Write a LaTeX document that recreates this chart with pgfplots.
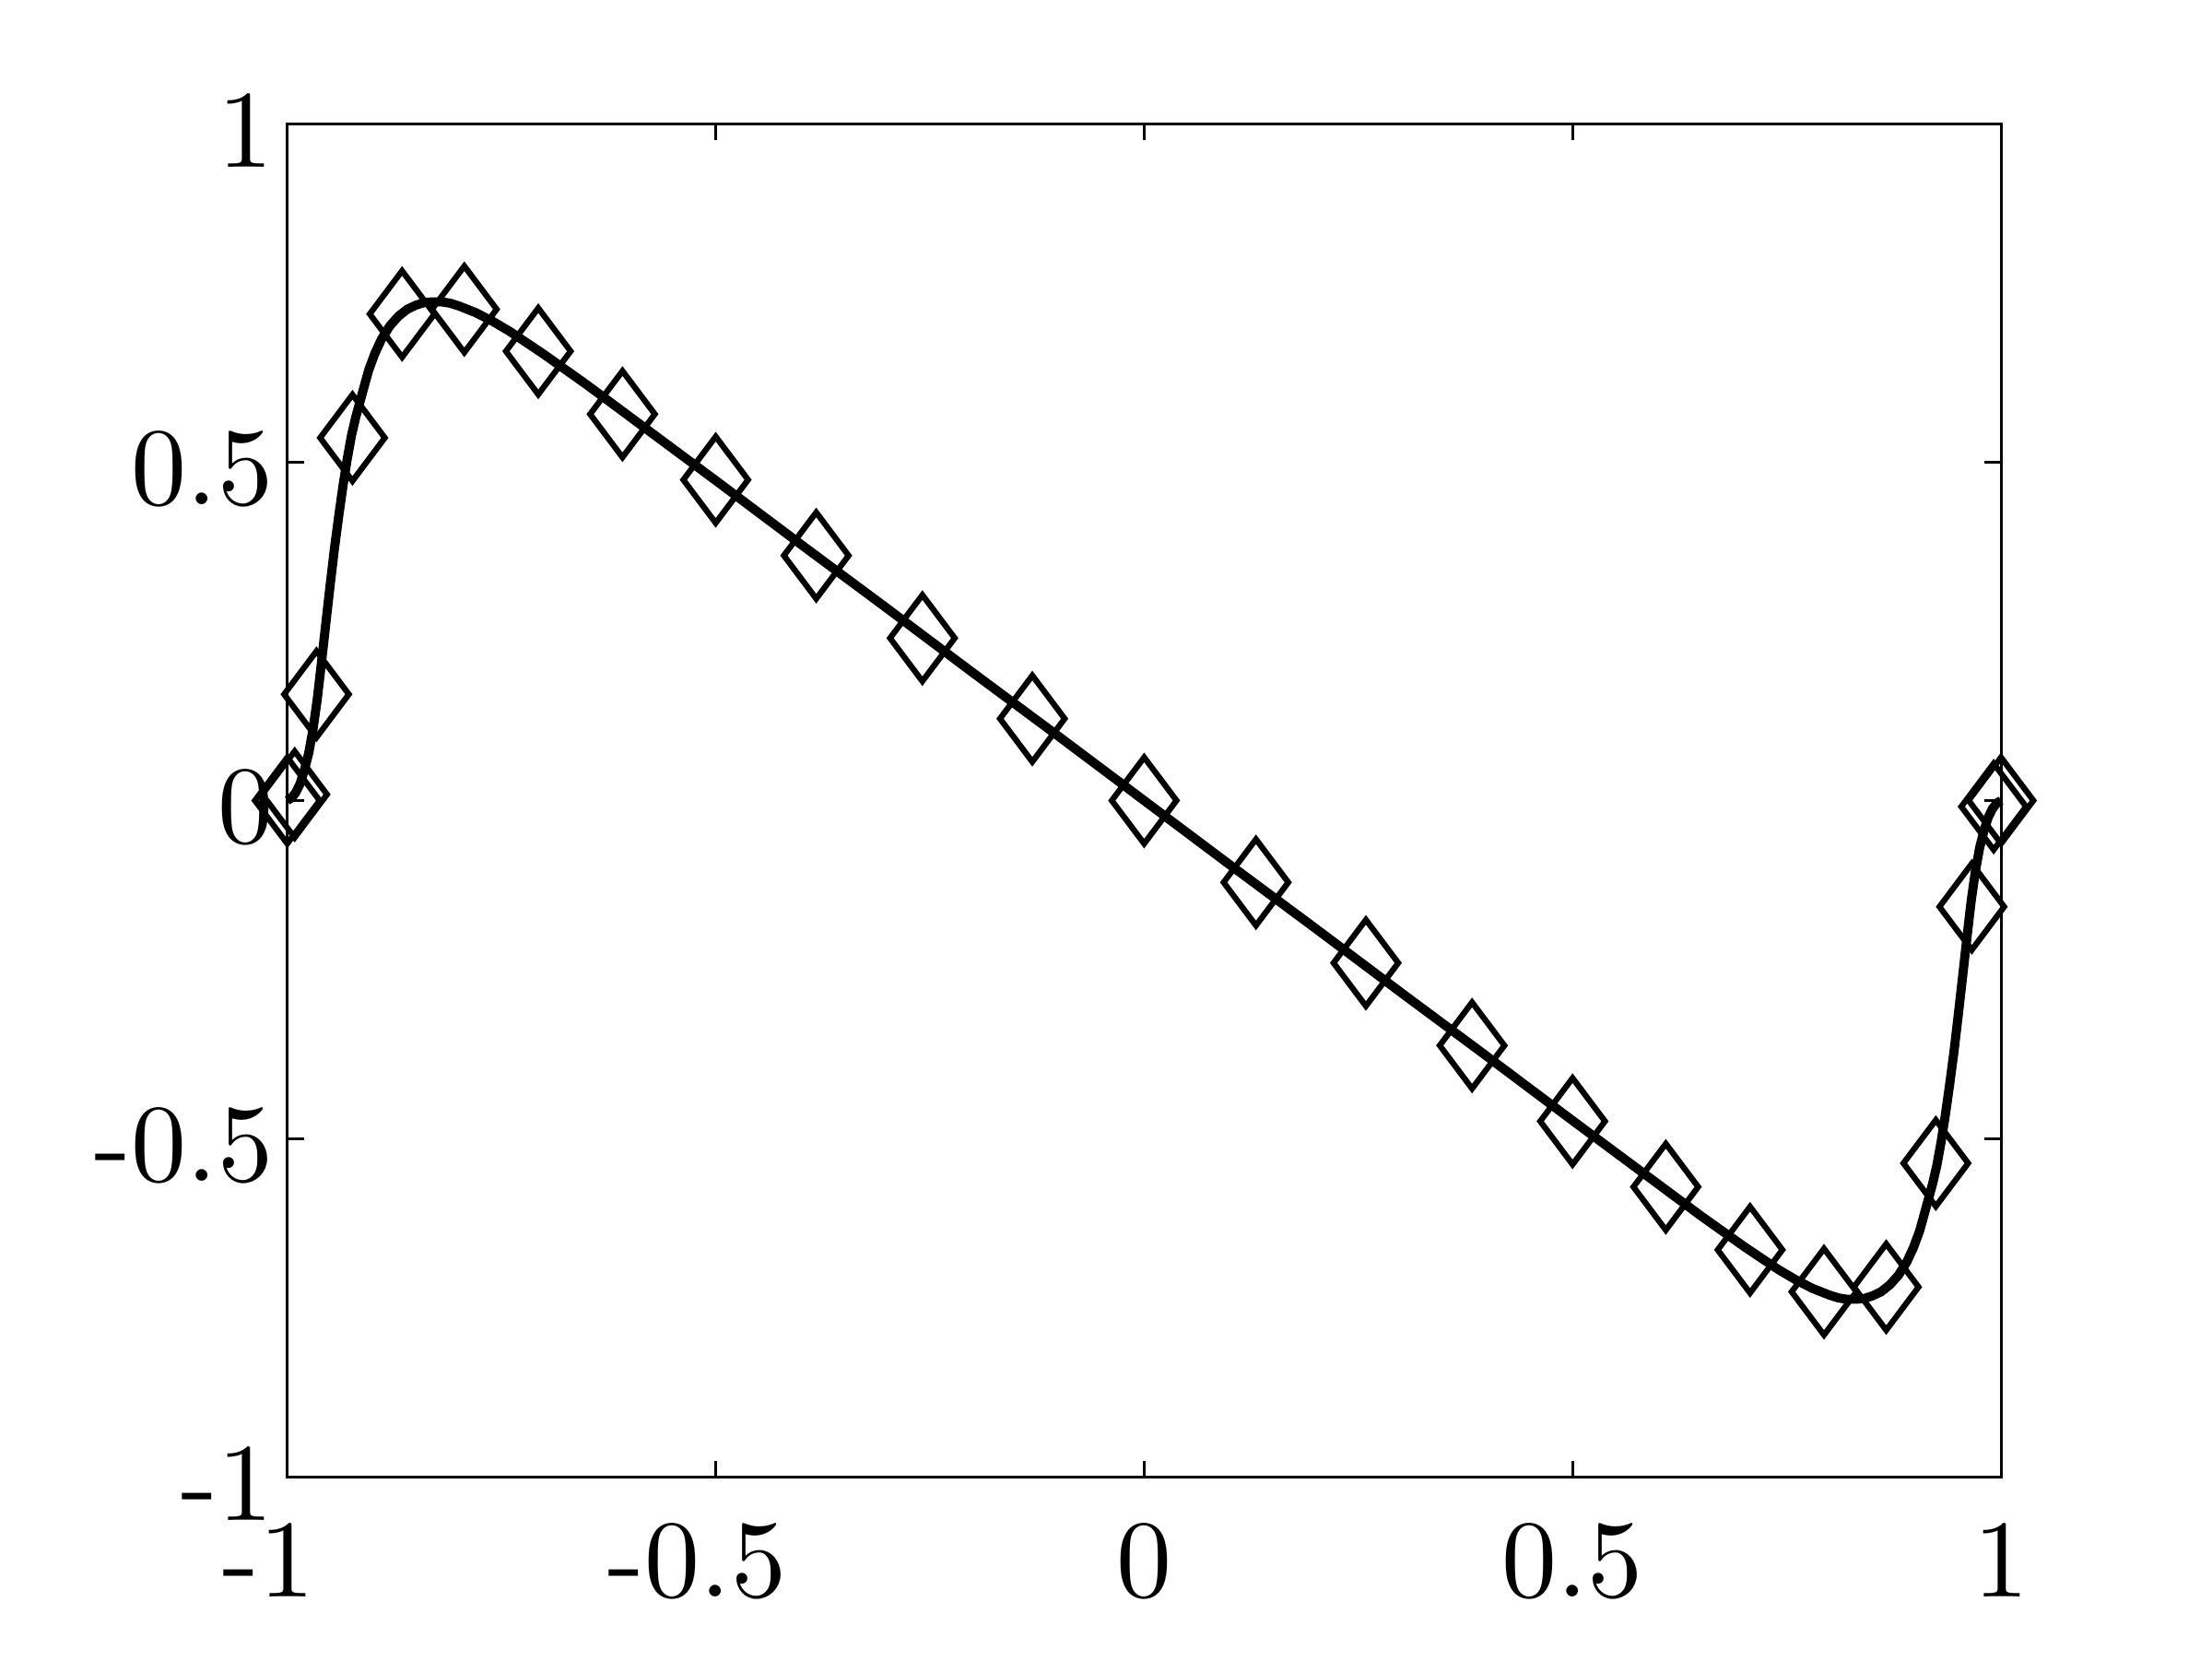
\documentclass[border=0pt]{standalone}
\usepackage{pgfplots}
\pgfplotsset{compat=1.18}
\begin{document}
\begin{tikzpicture}
\begin{axis}[
  at={(0pt,0pt)}, anchor=south west,
  scale only axis, width=309.9pt, height=244.7pt,
  xmin=-1, xmax=1, ymin=-1, ymax=1,
  clip=false,
  xtick={-1,-0.5,0,0.5,1},
  xticklabels={\scalebox{2}{\llap{-}1},\scalebox{2}{\llap{-}0.5},\scalebox{2}{0},\scalebox{2}{0.5},\scalebox{2}{1}},
  ytick={-1,-0.5,0,0.5,1},
  yticklabels={\scalebox{2}{-1},\scalebox{2}{-0.5},\scalebox{2}{0},\scalebox{2}{0.5},\scalebox{2}{1}},
  tick label style={font=\fontsize{10}{12}\selectfont, inner sep=0pt},
  xticklabel style={anchor=north, yshift=-8.2pt},
  yticklabel style={anchor=east, xshift=-2.4pt, yshift=-1.2pt},
  major tick length=3pt,
  tick style={line width=0.5pt, black},
  axis line style={line width=0.5pt, black},
]
\addplot[black, line width=1.65pt, line join=round] coordinates {
(-1.000,0.000) (-0.995,0.004) (-0.990,0.012) (-0.985,0.025) (-0.980,0.045)
(-0.975,0.070) (-0.970,0.105) (-0.965,0.150) (-0.960,0.205) (-0.955,0.262)
(-0.950,0.318) (-0.945,0.372) (-0.940,0.420) (-0.935,0.465) (-0.930,0.505)
(-0.925,0.540) (-0.920,0.567) (-0.912,0.604) (-0.905,0.636) (-0.898,0.660)
(-0.890,0.682) (-0.880,0.702) (-0.870,0.716) (-0.860,0.726) (-0.850,0.732)
(-0.840,0.736) (-0.830,0.737) (-0.820,0.737) (-0.810,0.735) (-0.800,0.731)
(-0.780,0.721) (-0.760,0.708) (-0.740,0.693) (-0.720,0.676) (-0.700,0.659)
(-0.680,0.641) (-0.650,0.614) (-0.600,0.567) (-0.500,0.473) (-0.400,0.378)
(-0.300,0.284) (-0.200,0.189) (-0.100,0.095) (0.000,0.000)
(0.100,-0.095) (0.200,-0.189) (0.300,-0.284) (0.400,-0.378) (0.500,-0.473)
(0.600,-0.567) (0.650,-0.614) (0.680,-0.641) (0.700,-0.659) (0.720,-0.676)
(0.740,-0.693) (0.760,-0.708) (0.780,-0.721) (0.800,-0.731) (0.810,-0.735)
(0.820,-0.737) (0.830,-0.737) (0.840,-0.736) (0.850,-0.732) (0.860,-0.726)
(0.870,-0.716) (0.880,-0.702) (0.890,-0.682) (0.898,-0.660) (0.905,-0.636)
(0.912,-0.604) (0.920,-0.567) (0.925,-0.540) (0.930,-0.505) (0.935,-0.465)
(0.940,-0.420) (0.945,-0.372) (0.950,-0.318) (0.955,-0.262) (0.960,-0.205)
(0.965,-0.150) (0.970,-0.105) (0.975,-0.070) (0.980,-0.045) (0.985,-0.025)
(0.990,-0.012) (0.995,-0.004) (1.000,0.000)
};
\addplot[only marks, mark=diamond, mark size=7.8pt, mark options={black, line width=1.05pt, fill=none}] coordinates {
(-1.0000,0.000) (-0.9914,0.009) (-0.9659,0.157) (-0.9239,0.536) (-0.8660,0.719)
(-0.7934,0.726) (-0.7071,0.664) (-0.6088,0.571) (-0.5000,0.474) (-0.3827,0.362)
(-0.2588,0.240) (-0.1305,0.121) (0.0000,0.000)
(0.1305,-0.121) (0.2588,-0.240) (0.3827,-0.362) (0.5000,-0.474) (0.6088,-0.571)
(0.7071,-0.664) (0.7934,-0.726) (0.8660,-0.719) (0.9239,-0.536) (0.9659,-0.157)
(0.9914,-0.009) (1.0000,0.000)
};
\end{axis}
\pgfresetboundingbox
\path[use as bounding box] (-51.95pt,-33.07pt) rectangle (348.05pt,267.1pt);
\end{tikzpicture}
\end{document}
